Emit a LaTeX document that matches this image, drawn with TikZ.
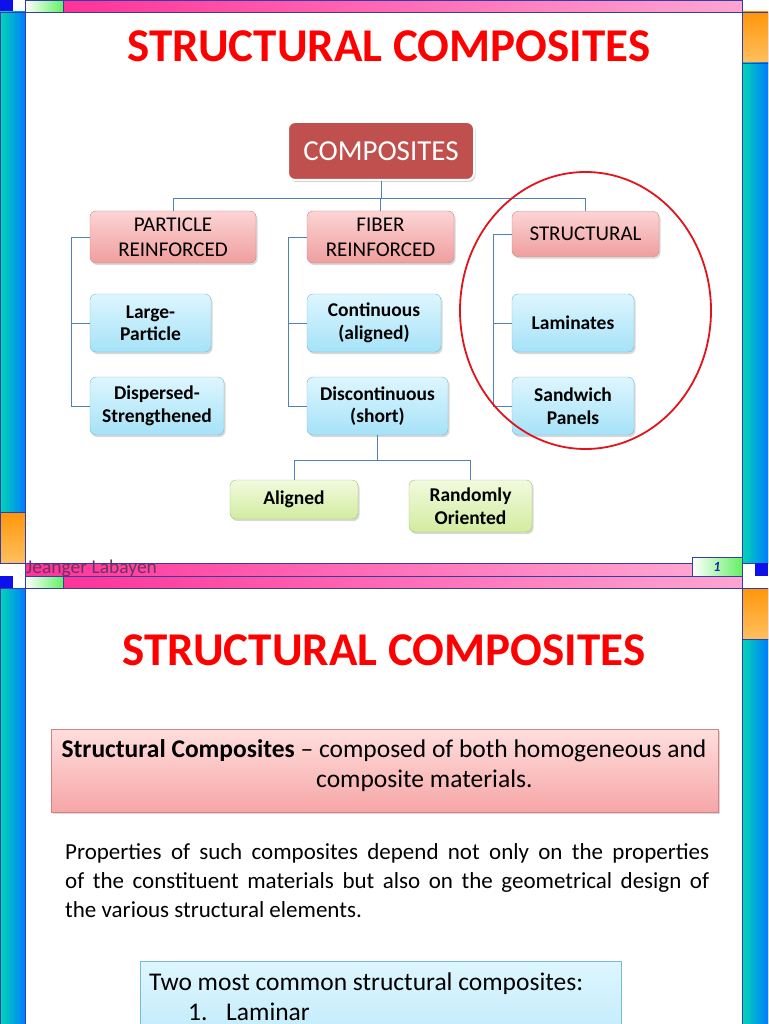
\documentclass[tikz,border=0pt]{standalone}
\usepackage{fontspec}
\setmainfont{Carlito}
\usetikzlibrary{shadows}
\definecolor{tealL}{RGB}{0,215,180}
\definecolor{blueR}{RGB}{0,125,255}
\definecolor{orgT}{RGB}{255,150,10}
\definecolor{orgB}{RGB}{255,192,95}
\definecolor{pinkL}{RGB}{255,51,153}
\definecolor{pinkR}{RGB}{255,165,210}
\definecolor{lgreen}{RGB}{100,240,100}
\definecolor{framec}{RGB}{50,60,170}
\definecolor{bluesq}{RGB}{15,15,235}
\definecolor{connc}{RGB}{79,129,189}
\definecolor{titlered}{RGB}{255,0,0}
\definecolor{compred}{RGB}{192,80,77}
\definecolor{pinkT}{RGB}{252,212,212}
\definecolor{pinkB}{RGB}{240,158,158}
\definecolor{pinkD}{RGB}{215,130,130}
\definecolor{blueT}{RGB}{222,246,254}
\definecolor{blueB}{RGB}{165,226,248}
\definecolor{blueD}{RGB}{120,185,215}
\definecolor{greenT}{RGB}{242,250,222}
\definecolor{greenB}{RGB}{210,236,160}
\definecolor{greenD}{RGB}{160,195,115}
\definecolor{circred}{RGB}{225,20,30}
\definecolor{footc}{RGB}{110,50,95}
\definecolor{pnumc}{RGB}{30,40,170}
\begin{document}
\begin{tikzpicture}[x=1pt,y=-1pt,
  conn/.style={draw=connc, line width=0.9pt},
  box/.style={rounded corners=6pt, inner sep=0pt, align=center,
    drop shadow={shadow xshift=1.5pt,shadow yshift=-2pt,opacity=0.3}},
  lvlone/.style={box, draw=pinkD, top color=pinkT, bottom color=pinkB,
    font=\fontsize{21}{25}\selectfont},
  lvltwo/.style={box, draw=blueD, top color=blueT, bottom color=blueB,
    font=\bfseries\fontsize{19.5}{22.5}\selectfont},
  lvlthree/.style={box, draw=greenD, top color=greenT, bottom color=greenB,
    font=\bfseries\fontsize{19.5}{22.5}\selectfont},
  rootbox/.style={rounded corners=7pt, inner sep=0pt, fill=compred, draw=white, line width=2pt,
    text=white, font=\fontsize{29}{32}\selectfont,
    drop shadow={shadow xshift=1.5pt,shadow yshift=-2pt,opacity=0.35}},
  titletext/.style={text=titlered, font=\bfseries\fontsize{47}{52}\selectfont},
  framebox/.style={draw=framec, line width=0.8pt}
]
\useasboundingbox (0,0) rectangle (768,1024);
\clip (0,0) rectangle (768,1024);
\fill[white] (0,0) rectangle (768,1024);

% ---------- slide frames ----------
\foreach \oy in {0,576}{
 \begin{scope}[shift={(0,\oy)}]
  \fill[bluesq] (0,0) rectangle (13,12);
  \shade[left color=white,right color=lgreen,framebox] (25,0) rectangle (63,12);
  \shade[left color=pinkL,right color=pinkR,framebox] (63,0) rectangle (742,12);
  \shade[left color=tealL,right color=blueR,framebox] (0,12) rectangle (25,512);
  \shade[top color=orgT,bottom color=orgB,framebox] (0,512) rectangle (25,563);
  \shade[top color=orgT,bottom color=orgB,framebox] (742,12) rectangle (768,63);
  \shade[left color=tealL,right color=blueR,framebox] (742,63) rectangle (768,563);
  \fill[bluesq] (755,563) rectangle (768,576);
  \shade[left color=pinkL,right color=pinkR,framebox] (25,563) rectangle (692,576);
  \shade[left color=white,right color=lgreen,framebox] (692,557) rectangle (742,576);
  \draw[framebox] (25,0) -- (25,576);
  \draw[framebox] (742,0) -- (742,576);
 \end{scope}
}
\node (foot) [anchor=base west, inner sep=0pt, text=footc, font=\fontsize{19.5}{19.5}\selectfont] at (26,573) {Jeanger Labayen};
\node (pnum) [text=pnumc, font=\bfseries\itshape\fontsize{14}{14}\selectfont] at (717,567) {1};

% ---------- slide 1 ----------
\node (title1) [titletext] at (389,46) {STRUCTURAL COMPOSITES};

\node (composites) [rootbox, minimum width=186pt, minimum height=58pt] at (381,151) {COMPOSITES};

\node (particle) [lvlone, minimum width=166pt, minimum height=52pt] at (173,237) {PARTICLE\\REINFORCED};
\node (fiber) [lvlone, minimum width=147pt, minimum height=52pt] at (380.5,237) {FIBER\\REINFORCED};
\node (structural) [lvlone, minimum width=147pt, minimum height=45pt] at (585.5,234) {STRUCTURAL};

\node (large) [lvltwo, minimum width=121pt, minimum height=58pt] at (150.5,323) {Large-\\Particle};
\node (dispersed) [lvltwo, minimum width=134pt, minimum height=58pt] at (157,406) {Dispersed-\\Strengthened};
\node (continuous) [lvltwo, minimum width=134pt, minimum height=58pt] at (374,323) {Continuous\\(aligned)};
\node (discont) [lvltwo, minimum width=141pt, minimum height=58pt] at (377.5,406) {Discontinuous\\(short)};
\node (laminates) [lvltwo, minimum width=122pt, minimum height=58pt] at (573,323) {Laminates};
\node (sandwich) [lvltwo, minimum width=122pt, minimum height=58pt] at (573,406) {Sandwich\\Panels};

\node (aligned) [lvlthree, minimum width=128pt, minimum height=39pt] at (294,499.5) {Aligned};
\node (randomly) [lvlthree, minimum width=123pt, minimum height=52pt] at (470.5,506) {Randomly\\Oriented};

% connectors
\coordinate (hub) at (381,198);
\draw[conn] (composites.south) -- (hub);
\draw[conn] (particle.north) |- (hub);
\draw[conn] (structural.north) |- (hub);
\draw[conn] (fiber.north) -- (fiber.north |- hub);

\coordinate (pb) at (71,0);
\draw[conn] (particle.west) -| (pb |- dispersed.west) -- (dispersed.west);
\draw[conn] (large.west) -- (large.west -| pb);
\coordinate (fb) at (288,0);
\draw[conn] (fiber.west) -| (fb |- discont.west) -- (discont.west);
\draw[conn] (continuous.west) -- (continuous.west -| fb);
\coordinate (sb) at (493,0);
\draw[conn] (structural.west) -| (sb |- sandwich.west) -- (sandwich.west);
\draw[conn] (laminates.west) -- (laminates.west -| sb);

\coordinate (dh) at (377,460);
\draw[conn] (discont.south) -- (discont.south |- dh);
\draw[conn] (aligned.north) |- (randomly.north |- dh) -- (randomly.north);

\draw[circred, line width=1.8pt] (585.5,310.5) ellipse [x radius=125.5pt, y radius=138.5pt];

% ---------- slide 2 ----------
\node (title2) [titletext] at (384,650) {STRUCTURAL COMPOSITES};

\node (defbox) [draw=pinkD, top color={rgb,255:red,255;green,222;blue,222}, bottom color={rgb,255:red,246;green,166;blue,166},
  minimum width=667pt, minimum height=83pt, inner sep=0pt,
  drop shadow={shadow xshift=1.5pt,shadow yshift=-2pt,opacity=0.3}] at (384.5,770.5) {};
\node (defa) [anchor=base, inner sep=0pt, font=\fontsize{25.5}{30}\selectfont] at (384,757)
  {\textbf{Structural Composites} – composed of both homogeneous and};
\node (defb) [anchor=base west, inner sep=0pt, font=\fontsize{25.5}{30}\selectfont] at (316,787)
  {composite materials.};

\node (para) [anchor=north west, text width=644pt, align=justify, inner sep=0pt,
  font=\fontsize{23}{29}\selectfont] at (65,843)
  {Properties of such composites depend not only on the properties\linebreak
   of the constituent materials but also on the geometrical design of\linebreak
   the various structural elements.};

\node (listbox) [anchor=north west, draw=blueD, top color=blueT, bottom color={rgb,255:red,185;green,232;blue,250},
  minimum width=481pt, minimum height=100pt, inner sep=0pt] at (140,961) {};
\node (lista) [anchor=base west, inner sep=0pt, font=\fontsize{25.5}{30}\selectfont] at (149,990)
  {Two most common structural composites:};
\node (listnum) [anchor=base west, inner sep=0pt, font=\fontsize{25.5}{30}\selectfont] at (188,1020) {1.};
\node (listb) [anchor=base west, inner sep=0pt, font=\fontsize{25.5}{30}\selectfont] at (226,1020) {Laminar};
\end{tikzpicture}
\end{document}
